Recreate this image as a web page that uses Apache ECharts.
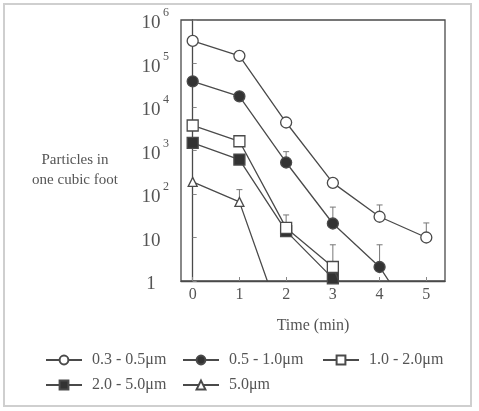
<!DOCTYPE html>
<html>
<head>
<meta charset="utf-8">
<script src="https://cdn.jsdelivr.net/npm/echarts@6/dist/echarts.min.js"></script>
<style>html,body{margin:0;padding:0;background:#fff;}#c{width:479px;height:411px;}</style>
</head>
<body>
<div id="c"></div>
<script>
var times = [0, 1, 2, 3, 4, 5];
var seriesNames = ['0.3 - 0.5\u03bcm', '0.5 - 1.0\u03bcm', '1.0 - 2.0\u03bcm', '2.0 - 5.0\u03bcm', '5.0\u03bcm'];
var s1 = [330000, 150000, 4400, 180, 30, 10];
var s2 = [39000, 17600, 530, 21, 2.1, 0.05];
var s3 = [3760, 1630, 16.6, 2.1, 0.006, null];
var s4 = [1500, 620, 14, 1.15, null, null];
var s5 = [190, 66, 0.06, null, null, null];
// error bar tops (null = none)
var e1 = [null, null, null, null, 56, 21.6];
var e2 = [null, null, 940, 50, 6.8, null];
var e3 = [null, null, 33, 6.8, null, null];
var e4 = [null, null, null, null, null, null];
var e5 = [null, 126, null, null, null, null];
var yTicks = [1, 10, 100, 1000, 10000, 100000, 1000000];
var xTicks = [0, 1, 2, 3, 4, 5];

var ink = '#4a4a4a';
var txt = '#555';
var serif = '"Liberation Serif", "DejaVu Serif", serif';

function pairs(vals) { return times.map(function (t, i) { return [t, vals[i]]; }); }
function errData(vals, tops) {
  var out = [];
  times.forEach(function (t, i) { if (tops[i] != null && vals[i] != null) out.push([t, vals[i], tops[i]]); });
  return out;
}
var styles = [
  { symbol: 'circle', size: 11, fill: '#fff' },
  { symbol: 'circle', size: 11, fill: '#333' },
  { symbol: 'rect', size: 11, fill: '#fff' },
  { symbol: 'rect', size: 11, fill: '#333' },
  { symbol: 'triangle', size: 9, fill: '#fff' }
];
var vals = [s1, s2, s3, s4, s5];
var errs = [e1, e2, e3, e4, e5];

var series = [];
vals.forEach(function (v, k) {
  series.push({
    type: 'custom',
    name: seriesNames[k] + '_err',
    data: errData(v, errs[k]),
    z: 1,
    silent: true,
    renderItem: function (params, api) {
      var b = api.coord([api.value(0), api.value(1)]);
      var t = api.coord([api.value(0), api.value(2)]);
      return {
        type: 'group',
        children: [
          { type: 'line', shape: { x1: b[0], y1: b[1], x2: t[0], y2: t[1] }, style: { stroke: '#777', lineWidth: 1 } },
          { type: 'line', shape: { x1: t[0] - 3, y1: t[1], x2: t[0] + 3, y2: t[1] }, style: { stroke: '#777', lineWidth: 1 } }
        ]
      };
    }
  });
});
vals.forEach(function (v, k) {
  series.push({
    type: 'line',
    name: seriesNames[k],
    data: pairs(v),
    clip: true,
    z: k === 2 ? 4 : 3,
    symbol: styles[k].symbol,
    symbolSize: styles[k].size,
    showAllSymbol: true,
    lineStyle: { color: ink, width: 1.3 },
    itemStyle: { color: styles[k].fill, borderColor: ink, borderWidth: 1.3 },
    emphasis: { disabled: true },
    animation: false
  });
});

function legendAt(name, left, top, pad) {
  return {
    data: [name], left: left, top: top, padding: 0,
    itemWidth: 36, itemHeight: 11,
    textStyle: { fontFamily: serif, fontSize: 16, color: txt, padding: [0, 0, 0, pad] },
    selectedMode: false
  };
}

var chart = echarts.init(document.getElementById('c'), null, { renderer: 'canvas' });
chart.setOption({
  animation: false,
  backgroundColor: '#fff',
  grid: { left: 181, right: 34, top: 20, bottom: 130, show: true, borderColor: ink, borderWidth: 1.3, backgroundColor: 'transparent' },
  xAxis: {
    type: 'value', min: -0.25, max: 5.4,
    name: 'Time (min)', nameLocation: 'middle', nameGap: 37,
    nameTextStyle: { fontFamily: serif, fontSize: 16, color: txt },
    axisLine: { lineStyle: { color: ink, width: 1.3 } },
    axisTick: { show: true, inside: true, length: 4, lineStyle: { color: '#888' }, customValues: xTicks },
    axisLabel: { fontFamily: serif, fontSize: 16, color: txt, margin: 6, customValues: xTicks },
    splitLine: { show: false }
  },
  yAxis: {
    type: 'log', logBase: 10, min: 1, max: 1000000,
    axisLine: { show: true, lineStyle: { color: ink, width: 1.3 } },
    axisTick: { show: true, inside: true, length: 4, lineStyle: { color: '#888' }, customValues: yTicks },
    axisLabel: {
      margin: 10, customValues: yTicks,
      formatter: function (v) {
        var e = Math.round(Math.log10(v));
        if (e === 0) return '{b|1}{s|}';
        if (e === 1) return '{b|10}{s|}';
        return '{b|10}{s|' + e + '}';
      },
      rich: {
        b: { fontFamily: serif, fontSize: 19, color: txt, width: 20, align: 'center', verticalAlign: 'bottom', padding: [7, 0, 0, 0] },
        s: { fontFamily: serif, fontSize: 12, color: txt, width: 10, align: 'left', verticalAlign: 'top', padding: [0, 0, 10, 0] }
      }
    },
    splitLine: { show: false }
  },
  legend: [
    legendAt(seriesNames[0], 45, 352, 5),
    legendAt(seriesNames[1], 182, 352, 5),
    legendAt(seriesNames[2], 322, 352, 5),
    legendAt(seriesNames[3], 45, 377, 5),
    legendAt(seriesNames[4], 182, 377, 5)
  ],
  graphic: [
    { type: 'rect', shape: { x: 4, y: 4, width: 467, height: 402 }, style: { fill: 'none', stroke: '#cfcfcf', lineWidth: 2 }, silent: true },
    { type: 'text', x: 75, y: 150, style: { text: 'Particles in\none cubic foot', font: '15px ' + serif, fill: txt, align: 'center', lineHeight: 20 }, silent: true }
  ],
  series: series
});
</script>
</body>
</html>
